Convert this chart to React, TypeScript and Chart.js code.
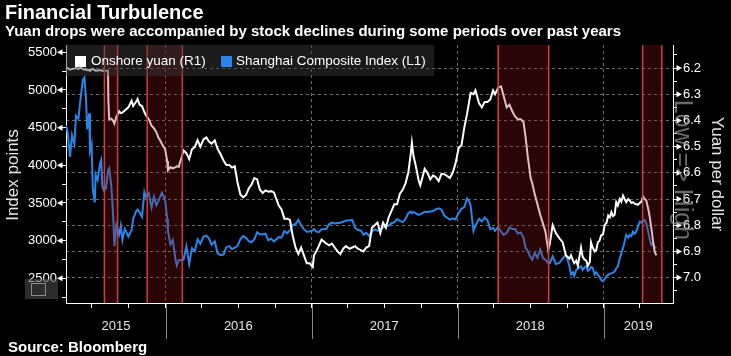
import React, { useEffect, useRef } from 'react';
import { Chart, registerables } from 'chart.js';

Chart.register(...registerables);

// ---------------- data ----------------
const dates = [
  '2015-04-27','2015-05-01','2015-05-07','2015-05-12','2015-05-18','2015-05-22','2015-05-28','2015-06-03','2015-06-08','2015-06-12',
  '2015-06-16','2015-06-19','2015-06-24','2015-06-26','2015-06-30','2015-07-03','2015-07-08','2015-07-10','2015-07-15','2015-07-21',
  '2015-07-24','2015-07-27','2015-07-31','2015-08-05','2015-08-10','2015-08-11','2015-08-13','2015-08-18','2015-08-21','2015-08-24',
  '2015-08-26','2015-08-31','2015-09-07','2015-09-11','2015-09-15','2015-09-21','2015-09-30','2015-10-08','2015-10-12','2015-10-19',
  '2015-10-23','2015-10-28','2015-11-03','2015-11-09','2015-11-13','2015-11-20','2015-11-27','2015-12-03','2015-12-09','2015-12-14',
  '2015-12-18','2015-12-23','2015-12-31',
  '2016-01-05','2016-01-07','2016-01-13','2016-01-19','2016-01-26','2016-01-29','2016-02-03','2016-02-15','2016-02-22','2016-02-29',
  '2016-03-07','2016-03-14','2016-03-21','2016-03-28','2016-04-05','2016-04-12','2016-04-18','2016-04-25','2016-05-03','2016-05-10',
  '2016-05-18','2016-05-25','2016-06-01','2016-06-08','2016-06-15','2016-06-22','2016-06-29','2016-07-06','2016-07-13','2016-07-20',
  '2016-07-27','2016-08-03','2016-08-10','2016-08-17','2016-08-24','2016-08-31','2016-09-07','2016-09-14','2016-09-21','2016-09-28',
  '2016-10-10','2016-10-17','2016-10-24','2016-10-31','2016-11-07','2016-11-14','2016-11-21','2016-11-28','2016-12-05','2016-12-12',
  '2016-12-19','2016-12-26',
  '2017-01-03','2017-01-06','2017-01-12','2017-01-18','2017-01-25','2017-02-06','2017-02-13','2017-02-20','2017-02-27','2017-03-06',
  '2017-03-13','2017-03-20','2017-03-27','2017-04-05','2017-04-12','2017-04-19','2017-04-26','2017-05-03','2017-05-10','2017-05-17',
  '2017-05-24','2017-05-31','2017-06-07','2017-06-14','2017-06-21','2017-06-28','2017-07-05','2017-07-12','2017-07-19','2017-07-26',
  '2017-08-02','2017-08-09','2017-08-16','2017-08-23','2017-08-30','2017-09-05','2017-09-08','2017-09-12','2017-09-18','2017-09-25',
  '2017-09-29','2017-10-10','2017-10-17','2017-10-24','2017-10-31','2017-11-07','2017-11-14','2017-11-21','2017-11-28','2017-12-05',
  '2017-12-12','2017-12-19','2017-12-26',
  '2018-01-03','2018-01-10','2018-01-17','2018-01-24','2018-01-29','2018-02-02','2018-02-09','2018-02-14','2018-02-23','2018-03-02',
  '2018-03-09','2018-03-16','2018-03-23','2018-03-30','2018-04-04','2018-04-12','2018-04-19','2018-04-26','2018-05-03','2018-05-10',
  '2018-05-17','2018-05-24','2018-05-31','2018-06-07','2018-06-14','2018-06-19','2018-06-25','2018-07-02','2018-07-06','2018-07-12',
  '2018-07-19','2018-07-26','2018-08-02','2018-08-08','2018-08-15','2018-08-19','2018-08-26','2018-09-03','2018-09-12','2018-09-20',
  '2018-09-28','2018-10-07','2018-10-11','2018-10-16','2018-10-19','2018-10-24','2018-10-28','2018-11-05','2018-11-09','2018-11-13',
  '2018-11-18','2018-11-22','2018-11-27','2018-11-30','2018-12-04','2018-12-09','2018-12-13','2018-12-17','2018-12-21','2018-12-25',
  '2018-12-30',
  '2019-01-03','2019-01-08','2019-01-12','2019-01-16','2019-01-20','2019-01-24','2019-01-28','2019-02-01','2019-02-05','2019-02-10',
  '2019-02-14','2019-02-18','2019-02-22','2019-02-26','2019-03-03','2019-03-07','2019-03-11','2019-03-15','2019-03-19','2019-03-23',
  '2019-03-27','2019-04-01','2019-04-05','2019-04-09','2019-04-13','2019-04-17','2019-04-22','2019-04-26','2019-04-30','2019-05-04',
  '2019-05-08','2019-05-12',
];

const shanghai = [
  4527,4441,4112,4401,4283,4658,4620,4910,5131,5166,
  4887,4478,4690,4192,4277,3686,3507,3877,3805,4017,
  4070,3725,3664,3694,3928,3928,3955,3748,3507,3210,
  2927,3206,3080,3200,3005,3156,3053,3143,3287,3386,
  3412,3375,3316,3646,3580,3630,3436,3585,3470,3520,
  3578,3636,3539,
  3288,3125,2950,3007,2749,2670,2740,2746,2927,2688,
  2898,2859,3018,2957,3053,3067,3033,2946,2992,2832,
  2807,2815,2913,2927,2887,2906,2931,3017,3060,3037,
  2992,2978,3018,3110,3085,3085,3092,3003,3026,2988,
  3048,3041,3128,3100,3133,3210,3218,3277,3204,3152,
  3118,3122,
  3135,3154,3119,3113,3149,3157,3217,3240,3228,3233,
  3238,3250,3267,3270,3274,3171,3141,3135,3080,3104,
  3064,3117,3150,3130,3156,3173,3207,3197,3231,3243,
  3285,3262,3246,3287,3363,3385,3365,3380,3362,3342,
  3349,3382,3381,3388,3393,3415,3430,3410,3333,3303,
  3280,3297,3280,
  3369,3421,3444,3559,3523,3462,3129,3199,3289,3254,
  3307,3270,3153,3169,3131,3180,3118,3076,3100,3175,
  3154,3155,3095,3109,3044,2907,2859,2775,2747,2837,
  2772,2882,2768,2745,2705,2700,2790,2690,2705,2760,
  2815,2660,2550,2580,2530,2610,2630,2660,2610,2640,
  2660,2600,2620,2650,2640,2550,2580,2545,2520,2480,
  2460,
  2490,2530,2545,2560,2565,2575,2590,2630,2660,2765,
  2840,2900,2990,3075,3040,3075,3060,3119,3090,3119,
  3180,3251,3240,3262,3274,3230,3119,3010,2942,2960,
  2900,2915,
];

const yuan = [
  6.201,6.200,6.206,6.204,6.202,6.200,6.203,6.199,6.203,6.206,
  6.205,6.208,6.207,6.209,6.205,6.204,6.208,6.210,6.209,6.208,
  6.209,6.210,6.209,6.210,6.210,6.325,6.395,6.393,6.398,6.405,
  6.412,6.385,6.365,6.372,6.370,6.362,6.350,6.325,6.345,6.330,
  6.318,6.340,6.345,6.368,6.380,6.395,6.420,6.430,6.445,6.465,
  6.475,6.490,6.510,
  6.555,6.590,6.578,6.583,6.578,6.575,6.577,6.515,6.525,6.548,
  6.510,6.502,6.475,6.500,6.472,6.465,6.480,6.489,6.476,6.508,
  6.530,6.553,6.570,6.570,6.580,6.575,6.637,6.683,6.693,6.685,
  6.660,6.645,6.620,6.625,6.665,6.677,6.667,6.672,6.670,6.675,
  6.725,6.740,6.775,6.775,6.780,6.840,6.885,6.910,6.885,6.915,
  6.945,6.945,
  6.960,6.915,6.900,6.880,6.855,6.870,6.877,6.870,6.885,6.900,
  6.910,6.890,6.880,6.890,6.885,6.880,6.890,6.895,6.900,6.885,
  6.880,6.810,6.800,6.790,6.830,6.790,6.810,6.770,6.745,6.720,
  6.720,6.680,6.665,6.640,6.600,6.530,6.485,6.535,6.575,6.630,
  6.648,6.585,6.600,6.625,6.610,6.617,6.632,6.604,6.605,6.612,
  6.620,6.600,6.565,
  6.505,6.495,6.428,6.375,6.330,6.295,6.300,6.285,6.335,6.350,
  6.330,6.330,6.320,6.285,6.300,6.275,6.270,6.310,6.350,6.340,
  6.365,6.385,6.395,6.395,6.405,6.460,6.540,6.620,6.640,6.680,
  6.720,6.760,6.795,6.825,6.895,6.870,6.800,6.830,6.850,6.865,
  6.915,6.928,6.915,6.935,6.945,6.935,6.955,6.885,6.920,6.930,
  6.935,6.955,6.940,6.865,6.885,6.900,6.895,6.865,6.860,6.840,
  6.835,
  6.800,6.790,6.763,6.770,6.750,6.765,6.760,6.712,6.725,6.700,
  6.710,6.687,6.700,6.712,6.700,6.706,6.715,6.712,6.718,6.720,
  6.722,6.715,6.710,6.690,6.700,6.705,6.737,6.770,6.813,6.860,
  6.900,6.915,
];

const bandStarts = ['2015-08-01', '2015-11-16', '2018-04-12', '2019-04-08'];
const bandEnds = ['2015-09-03', '2016-02-12', '2018-08-16', '2019-05-26'];

const quarterTicks = [
  '2015-07-01','2015-10-01','2016-01-01','2016-04-01','2016-07-01','2016-10-01',
  '2017-01-01','2017-04-01','2017-07-01','2017-10-01','2018-01-01','2018-04-01',
  '2018-07-01','2018-10-01','2019-01-01','2019-04-01',
];
const yearStarts = ['2016-01-01', '2017-01-01', '2018-01-01', '2019-01-01'];
const yearLabels = ['2015', '2016', '2017', '2018', '2019'];
const yearLabelDates = ['2015-08-30', '2016-07-01', '2017-07-01', '2018-07-01', '2019-03-28'];

const leftTickValues = [2250,2500,2750,3000,3250,3500,3750,4000,4250,4500,4750,5000,5250,5500];
const rightTickValues = [6.15,6.2,6.25,6.3,6.35,6.4,6.45,6.5,6.55,6.6,6.65,6.7,6.75,6.8,6.85,6.9,6.95,7.0,7.05];

const X_MIN = '2015-04-27';
const X_MAX = '2019-06-23';
const LEFT_MIN = 2172;
const LEFT_MAX = 5597;
const RIGHT_MIN = 6.112;
const RIGHT_MAX = 7.097;

// ---------------- helpers ----------------
const FONT = "'Liberation Sans', Arial, sans-serif";
const toDay = (s: string) =>
  Date.UTC(+s.slice(0, 4), +s.slice(5, 7) - 1, +s.slice(8, 10)) / 86400000;

const yearStartDays = yearStarts.map(toDay);
const labelDays = yearLabelDates.map(toDay);
const quarterDays = quarterTicks.map(toDay);
const labelOnlyDays = labelDays.filter((d) => !quarterDays.includes(d));
const xTickDays = Array.from(new Set([...quarterDays, ...labelDays])).sort((a, b) => a - b);
const isMajorR = (v: number) => v !== undefined && Math.round(v * 20) % 2 === 0;

const decorPlugin = {
  id: 'decor',
  afterDatasetsDraw(chart: any) {
    const { ctx, chartArea: a, scales } = chart;
    const xs = scales.x;
    ctx.save();
    for (let i = 0; i < bandStarts.length; i++) {
      const x1 = xs.getPixelForValue(toDay(bandStarts[i]));
      const x2 = xs.getPixelForValue(toDay(bandEnds[i]));
      ctx.fillStyle = 'rgba(150,18,18,0.27)';
      ctx.fillRect(x1, a.top, x2 - x1, a.bottom - a.top);
      ctx.strokeStyle = '#d63c3c';
      ctx.lineWidth = 1.5;
      for (const px of [x1, x2]) {
        ctx.beginPath();
        ctx.moveTo(px, a.top);
        ctx.lineTo(px, a.bottom);
        ctx.stroke();
      }
    }
    ctx.restore();
  },
  afterDraw(chart: any) {
    const { ctx, chartArea: a, scales } = chart;
    ctx.save();
    ctx.fillStyle = '#ffffff';
    for (const v of leftTickValues) {
      if (v % 500 !== 0) continue;
      const y = scales.yL.getPixelForValue(v);
      ctx.beginPath();
      ctx.moveTo(a.left - 9, y);
      ctx.lineTo(a.left - 3.5, y - 3);
      ctx.lineTo(a.left - 3.5, y + 3);
      ctx.closePath();
      ctx.fill();
    }
    for (const v of rightTickValues) {
      if (!isMajorR(v)) continue;
      const y = scales.yR.getPixelForValue(v);
      ctx.beginPath();
      ctx.moveTo(a.right + 9, y);
      ctx.lineTo(a.right + 3.5, y - 3);
      ctx.lineTo(a.right + 3.5, y + 3);
      ctx.closePath();
      ctx.fill();
    }
    ctx.strokeStyle = '#8a8a8a';
    ctx.lineWidth = 1;
    for (const d of yearStartDays) {
      const x = Math.round(scales.x.getPixelForValue(d)) + 0.5;
      ctx.beginPath();
      ctx.moveTo(x, a.bottom + 1);
      ctx.lineTo(x, a.bottom + 36);
      ctx.stroke();
    }
    ctx.restore();
  },
};

export default function App() {
  const ref = useRef<HTMLCanvasElement>(null);

  useEffect(() => {
    if (!ref.current) return;
    const transparent = 'rgba(0,0,0,0)';
    const chart = new Chart(ref.current, {
      type: 'line',
      data: {
        datasets: [
          {
            label: 'Onshore yuan (R1)',
            data: dates.map((d, i) => ({ x: toDay(d), y: yuan[i] })),
            yAxisID: 'yR',
            borderColor: '#ffffff',
            borderWidth: 2,
            pointRadius: 0,
            tension: 0,
            order: 0,
          },
          {
            label: 'Shanghai Composite Index (L1)',
            data: dates.map((d, i) => ({ x: toDay(d), y: shanghai[i] })),
            yAxisID: 'yL',
            borderColor: '#2b85e8',
            borderWidth: 2,
            pointRadius: 0,
            tension: 0,
            order: 1,
          },
        ],
      },
      options: {
        responsive: false,
        animation: false,
        devicePixelRatio: 1,
        events: [],
        layout: { padding: { top: 45, left: 0, right: 0, bottom: 0 } },
        plugins: { legend: { display: false }, tooltip: { enabled: false } },
        scales: {
          x: {
            type: 'linear',
            min: toDay(X_MIN),
            max: toDay(X_MAX),
            afterBuildTicks: (s: any) => {
              s.ticks = xTickDays.map((v) => ({ value: v }));
            },
            afterFit: (s: any) => {
              s.height = 53;
            },
            ticks: {
              autoSkip: false,
              maxRotation: 0,
              minRotation: 0,
              padding: 11,
              color: '#e6e6e6',
              font: { size: 13, family: FONT },
              callback: (v: any) => {
                const k = labelDays.indexOf(v);
                return k >= 0 ? yearLabels[k] : '';
              },
            },
            grid: {
              drawOnChartArea: true,
              color: (c: any) => (yearStartDays.includes(c.tick?.value) ? 'rgba(255,255,255,0.42)' : transparent),
              tickColor: (c: any) => (labelOnlyDays.includes(c.tick?.value) ? transparent : '#ffffff'),
              tickLength: 5,
              lineWidth: 1,
            },
            border: { display: true, color: '#ffffff', width: 1, dash: [3, 3] },
          },
          yL: {
            type: 'linear',
            position: 'left',
            min: LEFT_MIN,
            max: LEFT_MAX,
            afterBuildTicks: (s: any) => {
              s.ticks = leftTickValues.map((v) => ({ value: v }));
            },
            afterFit: (s: any) => {
              s.width = 66;
            },
            ticks: {
              autoSkip: false,
              padding: 5,
              color: '#ffffff',
              font: { size: 13, family: FONT },
              callback: (v: any) => (v % 500 === 0 ? String(v) : ''),
            },
            grid: { drawOnChartArea: false, drawTicks: true, tickLength: 4, tickColor: '#ffffff', color: '#ffffff' },
            border: { display: true, color: '#ffffff', width: 1 },
          },
          yR: {
            type: 'linear',
            position: 'right',
            reverse: true,
            min: RIGHT_MIN,
            max: RIGHT_MAX,
            afterBuildTicks: (s: any) => {
              s.ticks = rightTickValues.map((v) => ({ value: v }));
            },
            afterFit: (s: any) => {
              s.width = 58;
            },
            ticks: {
              autoSkip: false,
              padding: 6,
              color: '#ffffff',
              font: { size: 13, family: FONT },
              callback: (v: any) => (isMajorR(v) ? Number(v).toFixed(1) : ''),
            },
            grid: {
              drawOnChartArea: true,
              color: (c: any) => (isMajorR(c.tick?.value) ? 'rgba(255,255,255,0.42)' : transparent),
              tickLength: 4,
              tickColor: '#ffffff',
              lineWidth: 1,
            },
            border: { display: true, color: '#ffffff', width: 1, dash: [3, 3] },
          },
        },
      } as any,
      plugins: [decorPlugin],
    } as any);
    return () => chart.destroy();
  }, []);

  const abs: React.CSSProperties = { position: 'absolute', whiteSpace: 'nowrap' };

  return (
    <div
      style={{
        position: 'absolute',
        left: 0,
        top: 0,
        width: 731,
        height: 356,
        background: '#000',
        overflow: 'hidden',
        fontFamily: FONT,
      }}
    >
      <canvas
        ref={ref}
        width={731}
        height={356}
        style={{ position: 'absolute', left: 0, top: 0, width: 731, height: 356 }}
      />
      <div style={{ ...abs, left: 5, top: 1, color: '#fff', fontWeight: 'bold', fontSize: 20, lineHeight: '22px' }}>
        Financial Turbulence
      </div>
      <div style={{ ...abs, left: 5, top: 22, color: '#fff', fontWeight: 'bold', fontSize: 15, lineHeight: '17px' }}>
        Yuan drops were accompanied by stock declines during some periods over past years
      </div>
      <div style={{ ...abs, left: 8, top: 338, color: '#fff', fontWeight: 'bold', fontSize: 15, lineHeight: '17px' }}>
        Source: Bloomberg
      </div>

      {/* legend */}
      <div style={{ ...abs, left: 66, top: 45, width: 368, height: 31, background: 'rgba(60,60,60,0.45)' }} />
      <div style={{ ...abs, left: 75, top: 56, width: 11, height: 11, background: '#ffffff' }} />
      <div style={{ ...abs, left: 91, top: 53, color: '#fff', fontSize: 13.5, lineHeight: '16px' }}>Onshore yuan (R1)</div>
      <div style={{ ...abs, left: 221, top: 56, width: 11, height: 11, background: '#2b85e8' }} />
      <div style={{ ...abs, left: 236, top: 53, color: '#fff', fontSize: 13.5, lineHeight: '16px' }}>
        Shanghai Composite Index (L1)
      </div>

      {/* axis titles */}
      <div
        style={{
          ...abs,
          left: 13,
          top: 175,
          color: '#e6e6e6',
          fontSize: 17,
          lineHeight: '20px',
          transform: 'translate(-50%, -50%) rotate(-90deg)',
        }}
      >
        Index points
      </div>
      <div
        style={{
          ...abs,
          left: 717,
          top: 174,
          color: '#e6e6e6',
          fontSize: 17,
          lineHeight: '20px',
          transform: 'translate(-50%, -50%) rotate(90deg)',
        }}
      >
        Yuan per dollar
      </div>
      <div
        style={{
          ...abs,
          left: 684,
          top: 170,
          color: 'rgba(150,150,150,0.7)',
          fontSize: 25,
          lineHeight: '28px',
          transform: 'translate(-50%, -50%) rotate(90deg)',
        }}
      >
        {'Low => High'}
      </div>

      {/* small toolbar icon */}
      <div style={{ ...abs, left: 25, top: 279, width: 33, height: 20, background: 'rgba(80,80,80,0.55)' }} />
      <div style={{ ...abs, left: 31, top: 283, width: 13, height: 11, border: '1px solid #8a8a8a' }} />
    </div>
  );
}
